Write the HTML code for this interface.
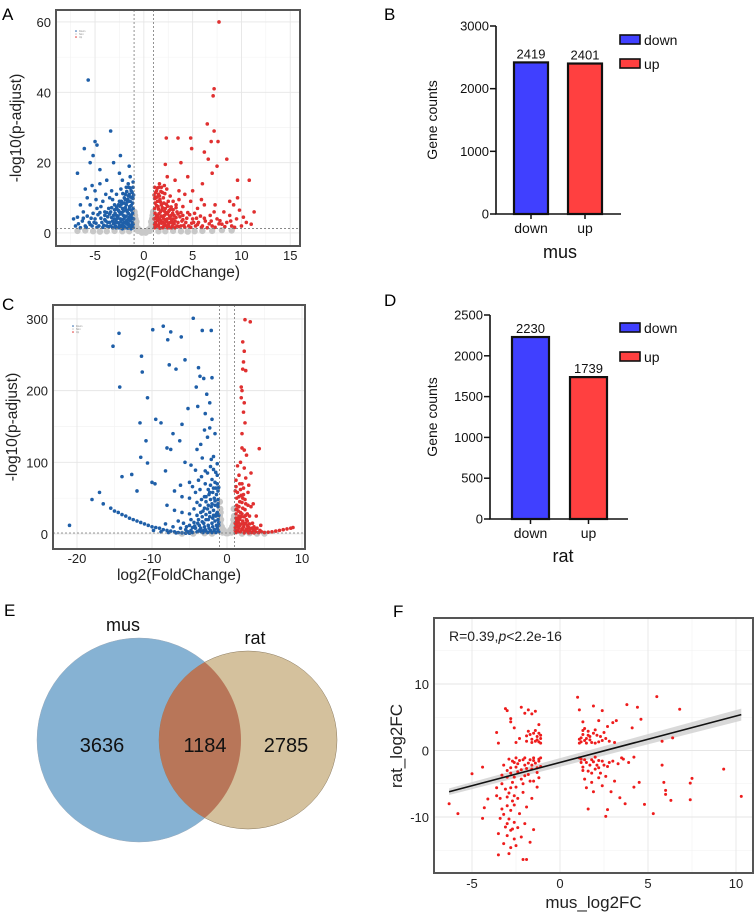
<!DOCTYPE html>
<html><head><meta charset="utf-8"><style>
html,body{margin:0;padding:0;background:#fff;}
svg{display:block;font-family:"Liberation Sans",Arial,sans-serif;}
</style></head><body>
<svg id="fig" width="755" height="915" viewBox="0 0 755 915" xmlns="http://www.w3.org/2000/svg">
<text x="2" y="20" font-size="17">A</text>
<text x="384" y="20" font-size="17">B</text>
<text x="2" y="310" font-size="17">C</text>
<text x="384" y="306" font-size="17">D</text>
<text x="4" y="616" font-size="17">E</text>
<text x="393" y="617" font-size="17">F</text>
<g id="gA"></g>
<g id="gC"></g>
<g id="gB"></g>
<g id="gD"></g>
<g id="gE"></g>
<g id="gF"></g>
</svg>
<script>
// ---------- DATA ----------
const barCategories = ["down","up"];
const musCounts = [2419, 2401];
const ratCounts = [2230, 1739];
const musTicks = [0,1000,2000,3000];
const ratTicks = [0,500,1000,1500,2000,2500];
const vennLabels = ["mus","rat"];
const vennValues = [3636, 1184, 2785];

const aXTicks = [-5,0,5,10,15];
const aYTicks = [0,20,40,60];
const aDown = [[-1.1,1.5],[-1.2,3],[-1.3,5],[-1.1,7],[-1.4,9],[-1.5,2],[-1.6,4],[-1.7,6],[-1.8,8],[-1.9,1.5],[-2,3],[-2.1,5],[-2.2,7],[-2.3,2],[-2.4,4],[-2.5,6],[-2.6,1.5],[-2.7,3],[-2.8,5],[-2.9,2],[-3,4],[-1.2,10],[-1.5,11],[-1.3,12],[-2,10],[-2.5,9],[-1.8,13],[-1.6,14],[-1.1,13],[-3.2,1.5],[-3.5,3],[-3.8,2],[-4,5],[-4.3,3],[-4.6,2],[-5,4],[-5.3,2],[-5.6,3],[-6,2],[-6.5,1.5],[-7,2],[-7.2,4],[-6.8,4.5],[-6.2,6],[-5.5,8],[-4.8,7],[-4.2,9],[-3.5,10],[-3.3,12],[-4.5,14],[-5,12],[-3.8,15],[-2.8,11],[-2.2,15],[-1.4,16],[-1.5,19],[-2.5,17],[-3.1,20],[-4.5,18],[-5.5,20],[-5.2,22],[-6.1,24],[-5,26],[-4.8,25],[-3.4,29],[-2.4,22],[-6.8,17],[-5.7,43.5],[-4,6],[-3.6,7],[-5.8,10],[-6.5,8],[-1.9,11],[-1.3,6.5],[-1.7,2.5],[-2.2,1.2],[-1.05,4],[-1.15,8.5],[-1.35,2.2],[-1.45,7.5],[-1.55,5.5],[-1.65,9.5],[-1.75,3.5],[-1.85,6.5],[-1.95,4.5],[-2.05,8.5],[-2.15,2.5],[-2.25,5.8],[-2.35,3.2],[-2.45,7.6],[-2.55,2.8],[-2.65,4.8],[-2.75,6.8],[-2.85,3.8],[-2.95,5.6],[-3.1,2.6],[-3.3,4.4],[-3.4,6],[-3.7,4.6],[-3.9,3.4],[-4.1,2.2],[-4.4,4.2],[-4.7,5.2],[-4.9,2.8],[-5.2,5.6],[-5.5,2.4],[-5.8,4.8],[-6.3,3.4],[-6.7,2.6],[-1.2,11.5],[-1.4,12.8],[-1.6,10.5],[-1.1,14.5],[-1.3,1.2],[-1.9,9.5],[-2.3,9],[-2.6,8],[-3,8],[-3.2,9.5],[-3.9,11],[-4.4,7.5],[-4.9,9.5],[-5.3,13.5],[-6,12.5],
[-1.1,2.5],[-1.2,4.2],[-1.3,7.8],[-1.1,9.8],[-1.4,3.6],[-1.5,6.8],[-1.6,2.8],[-1.7,8.8],[-1.8,4.8],[-1.9,7.2],[-2,1.8],[-2.1,6.2],[-2.2,3.8],[-2.3,8.2],[-2.4,5.4],[-2.5,2.2],[-2.6,6.4],[-2.7,4.2],[-2.8,7.4],[-2.9,3],[-3,6.6],[-3.1,5],[-3.2,3.4],[-3.3,7.2],[-3.4,2],[-3.5,5.4],[-3.6,1.8],[-3.7,3],[-3.8,5.8],[-4,3.8],[-4.2,1.6],[-4.5,5.8],[-4.8,1.6],[-5.1,3],[-5.4,4.2],[-5.9,1.6],[-6.2,4.2],[-1.15,5.6],[-1.25,1.8],[-1.45,4.6],[-1.65,1.4],[-1.85,2.8],[-2.05,4],[-2.45,1.5],[-2.85,1.5],[-1.05,10.8],[-1.35,10.2],[-1.75,11.8],[-2.15,11.2],[-2.35,12.5],[-1.55,13]];
const aUp = [[1.1,1.5],[1.2,3],[1.3,5],[1.1,7],[1.4,9],[1.5,2],[1.6,4],[1.7,6],[1.8,8],[1.9,1.5],[2,3],[2.1,5],[2.2,7],[2.3,2],[2.4,4],[2.5,6],[2.6,1.5],[2.7,3],[2.8,5],[2.9,2],[3,4],[1.2,10],[1.5,11],[1.3,12],[2,10],[2.5,9],[1.8,13],[1.6,14],[1.1,13],[3.2,1.5],[3.5,3],[3.8,2],[4,5],[4.3,3],[4.6,2],[5,4],[5.3,2],[5.6,3],[6,2],[6.5,1.5],[7,2],[7.5,4],[8,2.5],[8.5,3],[9,2],[9.5,4],[10,2],[10.5,3],[11,2.5],[6.8,5],[7.2,6],[8.2,6],[9.2,8],[9.6,10],[8.8,9],[6.2,8],[5.5,7],[4.8,9],[4.2,11],[3.6,12],[3.2,15],[2.4,16],[2.2,19.5],[2.3,27],[3.5,27],[4.8,27],[4.9,24],[3.8,20],[6.5,31],[7.2,29],[7.1,39],[7.2,41],[7.7,60],[7.6,26],[6.9,26],[6.2,23],[6.6,21],[7.5,19],[8.5,21],[9.6,15],[10.8,15],[11.3,6],[6,14],[5,12],[4.5,16],[7,17],[1.05,4],[1.15,8.5],[1.35,2.2],[1.45,7.5],[1.55,5.5],[1.65,9.5],[1.75,3.5],[1.85,6.5],[1.95,4.5],[2.05,8.5],[2.15,2.5],[2.25,5.8],[2.35,3.2],[2.45,7.6],[2.55,2.8],[2.65,4.8],[2.75,6.8],[2.85,3.8],[2.95,5.6],[3.1,2.6],[3.3,4.4],[3.4,6],[3.7,4.6],[3.9,3.4],[4.1,2.2],[4.4,4.2],[4.7,5.2],[4.9,2.8],[5.2,5.6],[5.5,2.4],[5.8,4.8],[6.3,3.4],[6.7,2.6],[1.2,11.5],[1.4,12.8],[1.6,10.5],[1.9,11.5],[2.1,13.5],[2.7,10.5],[3,9],[3.3,8],[3.6,9.5],[4,7.5],[7.8,3.5],[8.8,5],[9.8,6.5],[10.2,4.5],[7.3,8],[5.9,9.5],
[1.1,2.5],[1.2,4.2],[1.3,7.8],[1.1,9.8],[1.4,3.6],[1.5,6.8],[1.6,2.8],[1.7,8.8],[1.8,4.8],[1.9,7.2],[2,1.8],[2.1,6.2],[2.2,3.8],[2.3,8.2],[2.4,5.4],[2.5,2.2],[2.6,6.4],[2.7,4.2],[2.8,7.4],[2.9,3],[3,6.6],[3.1,5],[3.2,3.4],[3.3,7.2],[3.4,2],[3.5,5.4],[3.6,1.8],[3.8,5.8],[4,3.8],[4.2,1.6],[4.5,5.8],[4.8,1.6],[5.1,3],[5.4,4.2],[5.9,1.6],[6.2,4.2],[6.9,3.4],[7.3,1.6],[7.7,2.6],[8.3,1.8],[8.9,3.4],[9.3,1.6],[1.15,5.6],[1.25,1.8],[1.45,4.6],[1.65,1.4],[1.85,2.8],[2.05,4],[2.45,1.5],[2.85,1.5],[1.05,10.8],[1.35,10.2],[1.75,11.8],[2.15,11.2],[2.35,12.5],[1.55,13]];
const aNs = [[-0.9,2],[-0.7,1.5],[-0.5,1],[-0.3,0.5],[-0.1,0.2],[0.1,0.2],[0.3,0.5],[0.5,1],[0.7,1.5],[0.9,2],[-0.95,3],[0.95,3],[-0.85,4],[0.85,4],[-0.8,2.5],[0.8,2.5],[-1.5,0.5],[-3,0.6],[-4.5,0.4],[1.5,0.5],[3,0.6],[4.5,0.4],[6,0.6],[8,0.8],[-6,0.7],[-0.6,0.6],[0.6,0.6],[-0.2,0.1],[0.2,0.1],[-0.9,5],[0.9,5],[-0.95,6],[0.95,6],[-2.2,0.5],[-3.8,0.5],[-5.2,0.5],[2.2,0.5],[3.8,0.5],[5.2,0.5],[7,0.6],[9,0.7],[-6.8,0.6],[-0.75,3.2],[0.75,3.2]];

const cXTicks = [-20,-10,0,10];
const cYTicks = [0,100,200,300];
const cDown = [[-18,48],[-16.5,42],[-15.5,36],[-15,32],[-14.5,30],[-14,27],[-13.5,25],[-13,22],[-12.5,20],[-12,18],[-11.5,16],[-11,14],[-10.5,12],[-10,10],[-9.5,9],[-9,8],[-8.5,6],[-8,5],[-7.5,4],[-7,3],[-6.5,2],[-6,1.5],[-5.5,1],[-5,1],[-21,12],[-17,58],[-12,60],[-12.7,83],[-14,80],[-11.5,107],[-10.6,99],[-10,72],[-9.6,70],[-8.2,88],[-9.5,160],[-11.6,155],[-10.8,130],[-8.8,155],[-8,120],[-7.5,118],[-6.3,130],[-7.2,140],[-6,153],[-5.2,175],[-5.6,243],[-6.8,230],[-7.7,236],[-10.6,190],[-11.3,226],[-11.4,248],[-14.3,205],[-14.4,280],[-15.2,262],[-9.9,285],[-8.5,290],[-7.5,282],[-7.9,271],[-6.1,275],[-4.5,301],[-3.3,284],[-2.1,284],[-3.8,232],[-3.1,217],[-2,218],[-3.6,220],[-4.1,205],[-2.7,195],[-2.3,183],[-3.9,178],[-2.9,168],[-2,160],[-2.3,148],[-3,145],[-3.5,125],[-2.6,135],[-4,118],[-3.3,106],[-2.1,104],[-5.6,100],[-4.8,96],[-4.2,89],[-3.4,80],[-2.6,85],[-1.8,90],[-1.3,82],[-5,72],[-6.2,68],[-7,60],[-6,52],[-5,50],[-4.2,58],[-3.6,62],[-2.9,70],[-2.2,68],[-1.6,72],[-1.2,60],[-8,40],[-7,33],[-6,30],[-5,28],[-4.4,35],[-3.6,40],[-2.8,45],[-2.2,48],[-1.7,50],[-1.2,42],[-6.5,18],[-5.8,15],[-5,12],[-4.4,16],[-3.8,20],[-3.3,24],[-2.8,27],[-2.3,30],[-1.8,33],[-1.3,30],[-5.5,6],[-4.8,5],[-4.2,8],[-3.6,6],[-3,10],[-2.5,12],[-2,15],[-1.6,18],[-1.2,20],[-4,3],[-3.4,3],[-2.8,4],[-2.2,5],[-1.7,6],[-1.3,8],[-1.1,12],[-1.5,25],[-1.9,22],[-2.5,20],[-3.1,15],[-3.7,12],[-4.3,11],[-1.1,3],[-1.5,2],[-2,2],[-2.6,2],[-3.2,2],[-1.2,38],[-1.6,40],[-2.1,38],[-2.6,35],[-3.2,32],[-1.4,55],[-1.9,58],[-2.4,55],[-3,52],[-1.1,65],[-1.5,64],[-2,76],[-2.5,62],[-1.3,98],[-1.8,108],[-1.6,140],
[-4.6,2],[-3.8,4],[-3.1,5],[-2.4,8],[-1.9,10],[-1.4,12],[-1.1,16],[-1.4,28],[-1.8,26],[-2.3,24],[-2.8,20],[-3.3,17],[-3.9,15],[-4.6,9],[-1.2,48],[-1.6,46],[-2,42],[-2.5,40],[-3,36],[-3.5,30],[-4,26],[-4.8,20],[-5.4,10],[-6.2,8],[-7.2,10],[-8.2,14],[-1.3,70],[-1.8,64],[-2.3,58],[-2.8,52],[-3.4,48],[-4,44],[-1.1,26],[-1.2,5],[-1.7,3],[-2.3,3],[-2.9,6],[-3.5,8],[-5.2,3],[-6.8,1.5],[-7.8,2],[-8.8,3],[-9.8,5],[-1.5,86],[-2.2,94],[-2.9,88],[-3.8,75],[-4.6,66]];
const cUp = [[1.2,2],[1.4,5],[1.6,8],[1.8,3],[2,6],[2.2,10],[2.4,4],[2.6,7],[2.8,3],[3,5],[1.3,12],[1.5,16],[1.7,20],[1.9,14],[2.1,18],[2.3,24],[2.5,15],[2.7,12],[2.9,9],[3.2,2],[3.5,4],[3.8,3],[4.2,2],[4.6,3],[5,2],[5.5,2.5],[6,3],[6.5,4],[7,5],[7.5,6],[8,7],[8.5,8],[8.8,9],[1.2,28],[1.5,32],[1.8,30],[2.1,36],[2.4,34],[2.7,28],[3,25],[1.3,40],[1.7,45],[2.1,50],[2.5,42],[3.2,38],[1.4,58],[1.8,62],[2.2,55],[2.8,58],[3.5,42],[1.2,75],[1.6,82],[2,70],[2.5,78],[3.2,85],[1.4,95],[1.8,100],[2.3,92],[2.6,110],[2,120],[2.3,117],[4.3,119],[2,140],[2.4,155],[2.2,170],[1.9,190],[2.3,183],[1.9,205],[2,200],[2.1,230],[2.5,228],[2.2,240],[2.3,255],[2.1,268],[2.4,299],[3.1,296],[1.6,52],[3.9,25],[4.5,12],[1.1,5],[1.1,15],[1.2,22],[1.4,10],[1.6,25],[2,28],[2.6,20],[3.4,15],[3.6,10],[1.3,35],[1.1,60],[2.9,68],
[1.1,9],[1.3,18],[1.5,22],[1.7,12],[1.9,24],[2.1,8],[2.3,14],[2.5,26],[2.7,18],[3,14],[1.2,34],[1.6,38],[2,44],[2.4,48],[2.8,40],[1.3,50],[1.9,54],[1.2,66],[1.7,70],[2.2,64],[3.3,8],[3.7,6],[4,8],[4.4,5],[1.5,3],[2.3,1.5],[2.9,1.5],[3.6,1.5]];
const cNs = [[-0.9,15],[-0.7,10],[-0.5,6],[-0.3,3],[-0.1,1],[0.1,1],[0.3,3],[0.5,6],[0.7,10],[0.9,15],[-0.95,25],[0.95,25],[-0.85,30],[0.85,20],[-1,5],[1,5],[-3,1],[-6,0.5],[3,1],[5,0.5],[-0.6,2],[0.6,2],[-0.9,35],[-0.95,45],[0.9,35],[-0.8,20],[0.8,12],[-0.4,4],[0.4,4],[-2,0.5],[-4.5,0.5],[2,0.5],[4,0.5]];

const fXTicks = [-5,0,5,10];
const fYTicks = [-10,0,10];
const fPoints = [[-6.3,-8],[-5.8,-9.5],[-5,-3.5],[-4.4,-2.5],[-4.3,-8.6],[-4.1,-7.3],[-4.4,-10.2],[-3.6,-5.6],[-3.5,1.1],[-3.6,2.7],[-3.1,6.3],[-3,6],[-2.8,4.8],[-2.8,4.3],[-2.6,3.4],[-2.2,6.5],[-2,5.6],[-1.8,6.1],[-1.6,5.5],[-1.4,5.9],[-1.2,3.9],[-1.7,2.4],[-2.5,1.2],[-1.4,1.4],[-1.2,2.6],[-2.3,1.8],[-1.9,2.2],[-1.6,1.2],[-1.1,1.8],[-1.3,2.1],[-2.9,-1.3],[-2.6,-1.8],[-2.3,-1.5],[-2,-2.2],[-1.7,-1.4],[-1.4,-1.9],[-1.2,-1.3],[-1.1,-2.4],[-2.8,-2.6],[-2.4,-3.2],[-2,-3.8],[-1.6,-2.8],[-1.3,-3.3],[-3.2,-2.2],[-3,-4],[-2.7,-4.8],[-2.5,-5.5],[-2.2,-4.3],[-1.8,-3.6],[-3.3,-3.7],[-3.1,-5.8],[-2.9,-6.4],[-2.6,-6.8],[-2.4,-7.2],[-2.7,-7.6],[-3,-8.3],[-3.3,-8.8],[-2.8,-9],[-3.2,-9.6],[-2.9,-10.3],[-2.6,-10.8],[-3.1,-11.5],[-2.8,-12],[-3,-12.8],[-2.6,-13.3],[-3.2,-14],[-2.8,-14.6],[-3.5,-15.7],[-2.9,-15.5],[-2.5,-14.3],[-2.2,-13],[-2.1,-16.4],[-1.9,-16.4],[-1.7,-13.8],[-1.5,-11.9],[-2,-11],[-2.3,-9.5],[-1.9,-8.5],[-1.6,-7.2],[-2.1,-6.3],[-1.3,-5.5],[-1.5,-4.6],[-3.6,-6.8],[-3.4,-7.2],[-2.4,-11.6],[-3.5,-12.5],[1,8],[1.1,6.1],[1.3,4.3],[1.9,6.7],[2.2,4.5],[2.4,6],[2.7,3.6],[3,4.2],[3.2,4.5],[1.2,1.3],[1.5,1.8],[1.8,1.2],[2.1,2.3],[2.4,1.5],[1.3,2.4],[1.6,2.9],[2,3.1],[2.3,2.1],[2.6,1.8],[1.1,1.7],[1.4,3.3],[1.7,2.1],[2.8,1.4],[3.1,1.2],[1.2,-1.3],[1.5,-1.8],[1.8,-1.4],[2.1,-2.2],[2.4,-1.6],[1.3,-2.5],[1.6,-3.1],[2,-2.8],[2.3,-3.4],[2.7,-2.4],[3,-1.6],[3.3,-2],[3.6,-1.3],[3.9,-1.8],[1.4,-4.3],[1.8,-4.8],[2.2,-4.1],[2.6,-3.9],[3.1,-4.6],[1.5,-5.6],[1.9,-6.2],[2.4,-5.3],[2.9,-6.2],[1.6,-8.8],[2.6,-9.9],[2.7,-8.9],[3.4,-7.1],[4.2,-5.5],[3.7,-8],[4.8,-8.1],[4.5,-4.8],[5.3,-9.5],[5.8,-2.2],[5.9,-4.8],[6,-6.6],[6,-6],[6.3,-7.5],[5.8,1.4],[6.4,1.9],[6.8,6.2],[5.5,8.1],[4.4,6.5],[4.6,4.7],[3.8,6.9],[4.1,3.4],[7.5,-4.2],[7.4,-4.9],[7.4,-7.4],[9.3,-2.8],[10.3,-6.9],[3.5,-1.1],[4.2,-1],[2,-1],[1.1,-1.1],[1.1,1.1],[-1.1,-1.1],[-1.1,1.1],[-1.5,-1.1],[-2,-1.1],[-2.5,-1.1],[1.5,1.1],[2,1.1],
[-1.2,-1.6],[-1.5,-1.5],[-1.8,-1.9],[-2.1,-1.4],[-2.4,-2],[-2.7,-1.6],[-1.3,-2.6],[-1.6,-2.2],[-1.9,-2.7],[-2.2,-2.9],[-2.5,-2.5],[-2.8,-3.4],[-1.2,-4.1],[-1.7,-4.6],[-2.1,-5],[-2.6,-4],[-3,-3],[-3.3,-5],[-2.8,-5.6],[-3,-7],[-2.6,-8.2],[-3.4,-10.2],[-3,-11],[-2.7,-11.8],[-1.3,1.6],[-1.6,1.7],[-1.9,1.4],[-1.2,1.3],[-1.5,2.6],[-1.8,2.9],[-1.1,2.3],[-1.4,3],[1.2,1.9],[1.4,1.5],[1.7,1.6],[1.9,2.6],[2.2,1.3],[2.5,2.7],[1.3,3],[1.6,2.3],[1.2,-1.8],[1.4,-1.4],[1.7,-2.2],[1.9,-1.7],[2.2,-1.5],[2.5,-2.2],[1.3,-3],[1.8,-3.4],[2.2,-2.6],[2.8,-1.8]];
const fFit = [[-6.3,-6.2],[10.3,5.4]];

// ---------- HELPERS ----------
const NS="http://www.w3.org/2000/svg";
function mk(parent,tag,attrs,text){const e=document.createElementNS(NS,tag);for(const k in attrs)e.setAttribute(k,attrs[k]);if(text!==undefined)e.textContent=text;parent.appendChild(e);return e;}
function lin(d0,d1,r0,r1){return v=>r0+(v-d0)*(r1-r0)/(d1-d0);}

// ---------- VOLCANO ----------
function volcano(g,o){
  const X=lin(o.xd[0],o.xd[1],o.px[0],o.px[1]);
  const Y=lin(o.yd[0],o.yd[1],o.py[0],o.py[1]);
  const L=o.px[0],R=o.px[1],T=o.py[1],B=o.py[0];
  const bg=mk(g,'rect',{x:L,y:T,width:R-L,height:B-T,fill:'#fff'});
  
  
  o.minorX.forEach(v=>{const l=mk(g,'line',{x1:X(v),x2:X(v),y1:T,y2:B,stroke:'#f2f2f2','stroke-width':0.6});});
  o.minorY.forEach(v=>{const l=mk(g,'line',{y1:Y(v),y2:Y(v),x1:L,x2:R,stroke:'#f2f2f2','stroke-width':0.6});});
  o.xt.forEach(v=>{const l=mk(g,'line',{x1:X(v),x2:X(v),y1:T,y2:B,stroke:'#e6e6e6','stroke-width':0.9});});
  o.yt.forEach(v=>{const l=mk(g,'line',{y1:Y(v),y2:Y(v),x1:L,x2:R,stroke:'#e6e6e6','stroke-width':0.9});});
  const clip=mk(g,'g',{});
  
  
  o.ns.forEach(p=>{const c=mk(clip,'circle',{cx:X(p[0]),cy:Y(p[1]),r:3.2,fill:'#c8c8c8'});});
  o.down.forEach(p=>{const c=mk(clip,'circle',{cx:X(p[0]),cy:Y(p[1]),r:1.8,fill:'#1f5fa8'});});
  o.up.forEach(p=>{const c=mk(clip,'circle',{cx:X(p[0]),cy:Y(p[1]),r:1.8,fill:'#e03030'});});
  [-1,1].forEach(v=>{const l=mk(g,'line',{x1:X(v),x2:X(v),y1:T,y2:B,stroke:'#777','stroke-width':0.8,'stroke-dasharray':'2,2'});});
  const h=mk(g,'line',{x1:L,x2:R,y1:Y(o.padj),y2:Y(o.padj),stroke:'#777','stroke-width':0.8,'stroke-dasharray':'2,2'});
  
  
  const fr=mk(g,'rect',{x:L,y:T,width:R-L,height:B-T,fill:'none',stroke:'#555','stroke-width':2});
  
  
  o.xt.forEach(v=>{const t=mk(g,'text',{x:X(v),y:B+14,'font-size':13,'text-anchor':'middle',fill:'#222'},String(v));});
  o.yt.forEach(v=>{const t=mk(g,'text',{x:L-5,y:Y(v)+5,'font-size':13,'text-anchor':'end',fill:'#222'},String(v));});
  const xt=mk(g,'text',{x:(L+R)/2,y:B+31,'font-size':15.5,'text-anchor':'middle',fill:'#222'},'log2(FoldChange)');
  
  
  const yt=mk(g,'text',{x:0,y:0,'font-size':15.5,'text-anchor':'middle',fill:'#222',transform:`translate(${o.ytx},${(T+B)/2}) rotate(-90)`},'-log10(p-adjust)');
  
  
  const lg=mk(g,'g',{});
  
  
  [['#1f5fa8','Down'],['#c8c8c8','Non'],['#e03030','Up']].forEach((c,i)=>{mk(lg,'circle',{cx:L+20,cy:T+21+i*3,r:0.8,fill:c[0]});mk(lg,'text',{x:L+23,y:T+22+i*3,'font-size':2.5,fill:'#888'},c[1]);});
}
volcano(document.getElementById('gA'),{xd:[-9,16],yd:[-3.7,63.4],px:[56,300],py:[246,10],xt:aXTicks,yt:aYTicks,minorX:[-7.5,-2.5,2.5,7.5,12.5],minorY:[10,30,50],down:aDown,up:aUp,ns:aNs,padj:1.3,ytx:21});
volcano(document.getElementById('gC'),{xd:[-23.2,10.4],yd:[-21,319.5],px:[53,305],py:[549,305],xt:cXTicks,yt:cYTicks,minorX:[-15,-5,5],minorY:[50,150,250],down:cDown,up:cUp,ns:cNs,padj:1.3,ytx:17});

// ---------- BARS ----------
function bars(g,o){
  const Y=lin(0,o.max,o.y0,o.y1);
  const colors=['#4040ff','#ff4040'];
  o.vals.forEach((v,i)=>{
    const b=mk(g,'rect',{x:o.bx[i],y:Y(v),width:o.bw,height:o.y0-Y(v),fill:colors[i],stroke:'#111','stroke-width':2.2});
    
    
    const t=mk(g,'text',{x:o.bx[i]+o.bw/2,y:Y(v)-4,'font-size':13,'text-anchor':'middle',fill:'#111'},String(v));
    
    
    const c=mk(g,'text',{x:o.bx[i]+o.bw/2,y:o.y0+19,'font-size':14,'text-anchor':'middle',fill:'#111'},barCategories[i]);
    
    
    mk(g,'line',{x1:o.bx[i]+o.bw/2,x2:o.bx[i]+o.bw/2,y1:o.y0,y2:o.y0+5,stroke:'#111','stroke-width':1.5});
  });
  const ax=mk(g,'path',{d:`M${o.ax},${o.y1} V${o.y0} H${o.axEnd}`,fill:'none',stroke:'#111','stroke-width':1.6});
  
  
  o.ticks.forEach(v=>{mk(g,'line',{x1:o.ax-6,x2:o.ax,y1:Y(v),y2:Y(v),stroke:'#111','stroke-width':1.5});
    const t=mk(g,'text',{x:o.ax-7,y:Y(v)+4.5,'font-size':13,'text-anchor':'end',fill:'#111'},String(v));
    
    });
  const yt=mk(g,'text',{'font-size':14,'text-anchor':'middle',fill:'#111',transform:`translate(${o.ytx},${o.yty}) rotate(-90)`},'Gene counts');
  
  
  const xt=mk(g,'text',{x:o.xtx,y:o.xty,'font-size':18,'text-anchor':'middle',fill:'#111'},o.title);
  
  
  barCategories.forEach((c,i)=>{
    const lr=mk(g,'rect',{x:620,y:o.ly[i]-5,width:20,height:9,fill:colors[i],stroke:'#111','stroke-width':1.6});
    
    
    const lt=mk(g,'text',{x:644,y:o.ly[i]+5,'font-size':14,fill:'#111'},c);
    
    
  });
}
bars(document.getElementById('gB'),{vals:musCounts,ticks:musTicks,max:3000,y0:214,y1:26,bx:[514,568],bw:34,ax:496,axEnd:621,ytx:437,yty:120,xtx:560,xty:258,title:'mus',ly:[40,64]});
bars(document.getElementById('gD'),{vals:ratCounts,ticks:ratTicks,max:2500,y0:519,y1:315,bx:[512,570],bw:37,ax:490,axEnd:628,ytx:437,yty:417,xtx:563,xty:562,title:'rat',ly:[328,357]});

// ---------- VENN ----------
(function(){
  const g=document.getElementById('gE');
  const defs=mk(g,'defs',{});
  const cp=mk(defs,'clipPath',{id:'clipRat'});
  mk(cp,'circle',{cx:248,cy:740,r:89});
  const a=mk(g,'circle',{cx:139,cy:740,r:102,fill:'#86b2d3',stroke:'#9ab','stroke-width':0.5});
  
  
  const b=mk(g,'circle',{cx:248,cy:740,r:89,fill:'#d4c19d',stroke:'#8a7a60','stroke-width':0.5});
  
  
  const o=mk(g,'circle',{cx:139,cy:740,r:102,fill:'#b87659','clip-path':'url(#clipRat)'});
  
  
  const l1=mk(g,'text',{x:123,y:631,'font-size':18,'text-anchor':'middle',fill:'#111'},vennLabels[0]);
  
  
  const l2=mk(g,'text',{x:255,y:644,'font-size':18,'text-anchor':'middle',fill:'#111'},vennLabels[1]);
  
  
  [102,205,286].forEach((x,i)=>{const t=mk(g,'text',{x:x,y:752,'font-size':20,'text-anchor':'middle',fill:'#111'},String(vennValues[i]));
    
    });
})();

// ---------- SCATTER F ----------
(function(){
  const g=document.getElementById('gF');
  const L=434,R=753,T=618,B=873;
  const X=lin(0,10,560,736),Y=lin(0,10,750.5,684);
  [-2.5,2.5,7.5].forEach(v=>mk(g,'line',{x1:X(v),x2:X(v),y1:T,y2:B,stroke:'#f2f2f2','stroke-width':0.6}));
  [-15,-5,5,15].forEach(v=>mk(g,'line',{y1:Y(v),y2:Y(v),x1:L,x2:R,stroke:'#f2f2f2','stroke-width':0.6}));
  fXTicks.forEach(v=>{const l=mk(g,'line',{x1:X(v),x2:X(v),y1:T,y2:B,stroke:'#e6e6e6','stroke-width':0.9});});
  fYTicks.forEach(v=>{const l=mk(g,'line',{y1:Y(v),y2:Y(v),x1:L,x2:R,stroke:'#e6e6e6','stroke-width':0.9});});
  const band=mk(g,'polygon',{points:`${X(fFit[0][0])},${Y(fFit[0][1]+0.5)} ${X(fFit[1][0])},${Y(fFit[1][1]+0.9)} ${X(fFit[1][0])},${Y(fFit[1][1]-0.9)} ${X(fFit[0][0])},${Y(fFit[0][1]-0.5)}`,fill:'#d0d0d0',opacity:0.8});
  
  
  fPoints.forEach(p=>{const c=mk(g,'circle',{cx:X(p[0]),cy:Y(p[1]),r:1.5,fill:'#ee1c1c'});
    
    });
  const fl=mk(g,'line',{x1:X(fFit[0][0]),y1:Y(fFit[0][1]),x2:X(fFit[1][0]),y2:Y(fFit[1][1]),stroke:'#111','stroke-width':1.6});
  
  
  const fr=mk(g,'rect',{x:L,y:T,width:R-L,height:B-T,fill:'none',stroke:'#555','stroke-width':2});
  
  
  fXTicks.forEach(v=>{const t=mk(g,'text',{x:X(v),y:B+15,'font-size':13,'text-anchor':'middle',fill:'#222'},String(v));});
  fYTicks.forEach(v=>{const t=mk(g,'text',{x:L-5,y:Y(v)+5,'font-size':13,'text-anchor':'end',fill:'#222'},String(v));});
  const xt=mk(g,'text',{x:(L+R)/2,y:908,'font-size':17,'text-anchor':'middle',fill:'#222'},'mus_log2FC');
  
  
  const yt=mk(g,'text',{'font-size':17,'text-anchor':'middle',fill:'#222',transform:`translate(402,746) rotate(-90)`},'rat_log2FC');
  
  
  const st=mk(g,'text',{x:449,y:641,'font-size':14,fill:'#222'});
  
  
  mk(st,'tspan',{},'R=0.39,');
  mk(st,'tspan',{'font-style':'italic'},'p');
  mk(st,'tspan',{},'<2.2e-16');
})();
</script>
</body></html>
